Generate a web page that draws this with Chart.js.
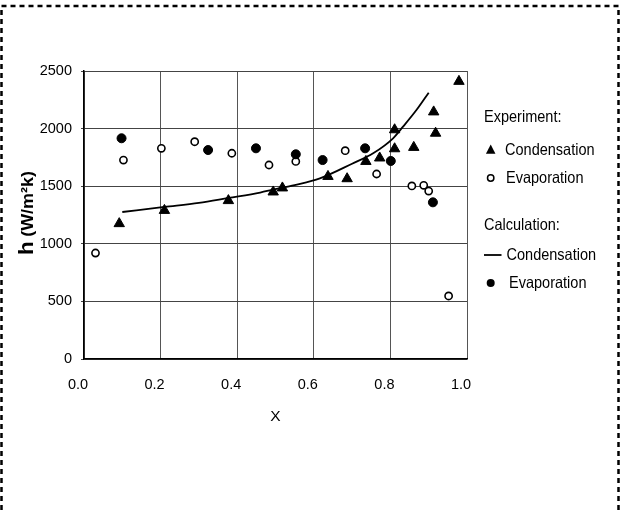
<!DOCTYPE html>
<html>
<head>
<meta charset="utf-8">
<script src="https://cdn.jsdelivr.net/npm/chart.js@4"></script>
<style>
  html, body { margin: 0; padding: 0; background: #fff; }
  #wrap { width: 620px; height: 513px; position: relative; }
</style>
</head>
<body>
<div id="wrap"><canvas id="c" width="620" height="513"></canvas></div>
<script>
// ---- data ----
const xTicks = [0.0, 0.2, 0.4, 0.6, 0.8, 1.0];
const yTicks = [0, 500, 1000, 1500, 2000, 2500];

const expCondX = [0.092, 0.210, 0.377, 0.494, 0.518, 0.637, 0.687, 0.736, 0.772, 0.811, 0.811, 0.861, 0.913, 0.918, 0.979];
const expCondY = [1175, 1290, 1375, 1450, 1485, 1585, 1565, 1715, 1745, 1990, 1825, 1837, 2145, 1960, 2410];

const expEvapX = [0.030, 0.103, 0.202, 0.289, 0.386, 0.483, 0.553, 0.682, 0.764, 0.856, 0.887, 0.900, 0.952];
const expEvapY = [920, 1727, 1829, 1886, 1786, 1684, 1715, 1808, 1606, 1502, 1508, 1458, 547];

const calcEvapX = [0.098, 0.324, 0.449, 0.553, 0.623, 0.734, 0.801, 0.911];
const calcEvapY = [1916, 1814, 1829, 1777, 1727, 1829, 1719, 1360];

const calcCondX = [0.10, 0.21, 0.30, 0.377, 0.46, 0.494, 0.55, 0.616, 0.70, 0.755, 0.807, 0.833, 0.868, 0.90];
const calcCondY = [1276, 1320, 1355, 1398, 1445, 1470, 1510, 1568, 1695, 1786, 1916, 2017, 2161, 2312];

const legendHeads = ['Experiment:', 'Calculation:'];
const legendItems = ['Condensation', 'Evaporation', 'Condensation', 'Evaporation'];
const yTitleMain = 'h';
const yTitleUnit = '(W/m\u00B2k)';
const xTitle = 'X';

const pts = (xs, ys) => xs.map((x, i) => ({ x: x, y: ys[i] }));
const FONT = '"Liberation Sans", Arial, sans-serif';

const framePlugin = {
  id: 'frame',
  beforeDraw(chart) {
    const ctx = chart.ctx;
    ctx.save();
    ctx.fillStyle = '#fff';
    ctx.fillRect(0, 0, chart.width, chart.height);
    ctx.strokeStyle = '#000';
    ctx.lineWidth = 2.5;
    ctx.setLineDash([5, 4]);
    ctx.beginPath();
    ctx.moveTo(1.5, 600); ctx.lineTo(1.5, 6); ctx.lineTo(618.5, 6); ctx.lineTo(618.5, 600);
    ctx.stroke();
    ctx.restore();
  },
  afterDraw(chart) {
    const ctx = chart.ctx;
    const xs = chart.scales.x;
    ctx.save();
    ctx.fillStyle = '#000';
    ctx.strokeStyle = '#000';
    // y title (rotated, two font sizes)
    ctx.save();
    ctx.translate(33, 255);
    ctx.rotate(-Math.PI / 2);
    ctx.scale(1.12, 1);
    ctx.textBaseline = 'alphabetic';
    ctx.textAlign = 'left';
    ctx.font = 'bold 20px ' + FONT;
    ctx.fillText(yTitleMain, 0, 0);
    const w = ctx.measureText(yTitleMain).width;
    ctx.font = 'bold 16px ' + FONT;
    ctx.fillText(yTitleUnit, w + 4, 0);
    ctx.restore();
    // x title
    ctx.font = '15.5px ' + FONT;
    ctx.textAlign = 'center';
    ctx.textBaseline = 'middle';
    ctx.fillText(xTitle, (xs.left + xs.right) / 2, 417);

    // legend
    const text = (s, x, y) => {
      ctx.save();
      ctx.translate(x, y);
      ctx.scale(0.88, 1);
      ctx.font = '16.5px ' + FONT;
      ctx.textAlign = 'left';
      ctx.textBaseline = 'middle';
      ctx.fillText(s, 0, 0);
      ctx.restore();
    };
    text(legendHeads[0], 484, 117);
    const tr = 5.5;
    ctx.beginPath();
    ctx.moveTo(490.7, 150 - tr);
    ctx.lineTo(490.7 + tr * 0.866, 150 + tr * 0.5 + 1);
    ctx.lineTo(490.7 - tr * 0.866, 150 + tr * 0.5 + 1);
    ctx.closePath();
    ctx.fill();
    text(legendItems[0], 505, 150);
    ctx.lineWidth = 1.5;
    ctx.beginPath();
    ctx.arc(490.7, 178, 3.2, 0, Math.PI * 2);
    ctx.stroke();
    text(legendItems[1], 506, 178);
    text(legendHeads[1], 484, 225);
    ctx.lineWidth = 1.8;
    ctx.beginPath();
    ctx.moveTo(484, 255); ctx.lineTo(501.5, 255);
    ctx.stroke();
    text(legendItems[2], 506.5, 255);
    ctx.beginPath();
    ctx.arc(490.7, 283, 4, 0, Math.PI * 2);
    ctx.fill();
    text(legendItems[3], 509, 283);
    ctx.restore();
  }
};

new Chart(document.getElementById('c'), {
  type: 'scatter',
  data: {
    datasets: [
      {
        label: 'Calc Evaporation',
        data: pts(calcEvapX, calcEvapY),
        pointStyle: 'circle', pointRadius: 4.5,
        backgroundColor: '#000', borderColor: '#000', borderWidth: 1
      },
      {
        label: 'Exp Evaporation',
        data: pts(expEvapX, expEvapY),
        pointStyle: 'circle', pointRadius: 3.6,
        backgroundColor: '#fff', borderColor: '#000', borderWidth: 1.6
      },
      {
        label: 'Exp Condensation',
        data: pts(expCondX, expCondY),
        pointStyle: 'triangle', pointRadius: 6,
        backgroundColor: '#000', borderColor: '#000', borderWidth: 1
      },
      {
        type: 'line',
        label: 'Calc Condensation',
        data: pts(calcCondX, calcCondY),
        showLine: true, pointRadius: 0, fill: false,
        borderColor: '#000', borderWidth: 1.8,
        cubicInterpolationMode: 'monotone'
      }
    ]
  },
  options: {
    responsive: false,
    animation: false,
    events: [],
    layout: { padding: { left: 0, right: 153, top: 71, bottom: 0 } },
    plugins: { legend: { display: false }, tooltip: { enabled: false }, title: { display: false } },
    scales: {
      x: {
        type: 'linear', min: 0, max: 1,
        afterFit: s => { s.height = 154; },
        afterBuildTicks: s => { s.ticks = xTicks.map(v => ({ value: v })); },
        ticks: {
          callback: v => Number(v).toFixed(1),
          font: { family: FONT, size: 14.5 }, color: '#000',
          padding: 17, labelOffset: -6, maxRotation: 0
        },
        grid: { color: '#555', lineWidth: 1, drawTicks: false },
        border: { color: '#000', width: 1.5 },
        title: { display: false }
      },
      y: {
        type: 'linear', min: 0, max: 2500,
        afterFit: s => { s.width = 84; },
        afterBuildTicks: s => { s.ticks = yTicks.map(v => ({ value: v })); },
        ticks: {
          callback: v => String(v),
          font: { family: FONT, size: 14.5 }, color: '#000',
          padding: 9
        },
        grid: { color: '#444', lineWidth: 1, tickLength: 3 },
        border: { color: '#000', width: 1.5 },
        title: { display: false }
      }
    }
  },
  plugins: [framePlugin]
});
</script>
</body>
</html>
